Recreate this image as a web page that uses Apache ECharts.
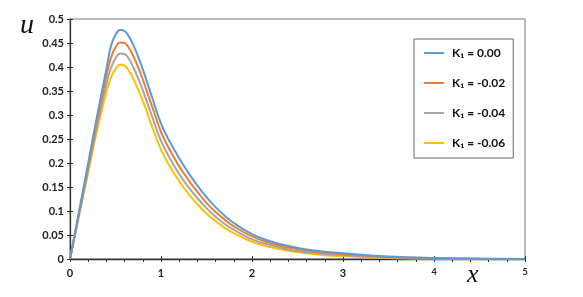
<!DOCTYPE html>
<html>
<head>
<meta charset="utf-8">
<script src="https://cdn.jsdelivr.net/npm/echarts@6/dist/echarts.min.js"></script>
<style>html,body{margin:0;padding:0;background:#fff}#c{width:583px;height:297px}</style>
</head>
<body>
<div id="c"></div>
<script>
const xs    = [0,0.1,0.2,0.3,0.4,0.45,0.5,0.55,0.6,0.65,0.7,0.75,0.8,0.9,1.0,1.1,1.2,1.3,1.4,1.5,1.6,1.7,1.8,2.0,2.2,2.4,2.6,2.8,3.0,3.5,4.0,4.5,5.0];
const uK000 = [0,0.100,0.200,0.300,0.396,0.443,0.467,0.477,0.475,0.463,0.444,0.421,0.395,0.338,0.282,0.243,0.210,0.180,0.153,0.129,0.108,0.090,0.075,0.052,0.037,0.027,0.020,0.015,0.012,0.005,0.002,0.0006,0];
const uK002 = [0,0.097,0.193,0.290,0.381,0.419,0.441,0.451,0.450,0.439,0.421,0.399,0.374,0.319,0.265,0.226,0.193,0.165,0.140,0.117,0.098,0.082,0.068,0.047,0.033,0.024,0.017,0.013,0.010,0.004,0.0015,0.0004,0];
const uK004 = [0,0.093,0.187,0.280,0.364,0.398,0.418,0.428,0.427,0.416,0.398,0.376,0.352,0.298,0.246,0.209,0.177,0.150,0.127,0.106,0.088,0.073,0.061,0.041,0.029,0.020,0.014,0.010,0.008,0.003,0.001,0.0003,0];
const uK006 = [0,0.090,0.180,0.270,0.348,0.378,0.396,0.405,0.403,0.392,0.374,0.353,0.330,0.277,0.228,0.192,0.162,0.136,0.114,0.095,0.079,0.065,0.054,0.036,0.025,0.017,0.012,0.008,0.006,0.002,0.0008,0.0002,0];
const seriesNames = ['K₁ = 0.00','K₁ = -0.02','K₁ = -0.04','K₁ = -0.06'];
const seriesColors = ['#5B9BD5','#ED7D31','#A5A5A5','#FFC000'];
const seriesValues = [uK000,uK002,uK004,uK006];

const chart = echarts.init(document.getElementById('c'));
const FONT = 'Lato';
const series = seriesValues.map((vals,i)=>({
  name: seriesNames[i], type:'line', smooth:0.4, symbol:'none', showSymbol:false,
  xAxisIndex:0, yAxisIndex:0,
  data: xs.map((x,j)=>[x, vals[j]]),
  lineStyle:{color:seriesColors[i], width:2},
  itemStyle:{color:seriesColors[i]},
  z: 10 - i
}));
chart.setOption({
  animation:false,
  grid: {left:70, right:58, top:19, bottom:38, show:true, borderColor:'#777', borderWidth:1, backgroundColor:'transparent'},
  legend:{
    orient:'vertical', left:414, top:39,
    padding:[8,8,9,9], itemGap:18, itemWidth:20, itemHeight:14,
    borderColor:'#666', borderWidth:1, backgroundColor:'#fff',
    itemStyle:{opacity:0},
    lineStyle:{width:2},
    data: seriesNames,
    textStyle:{fontFamily:FONT, fontWeight:'bold', fontSize:12, color:'#111', padding:[0,0,0,3]}
  },
  xAxis:[{
    type:'value', min:0, max:5, interval:1,
    axisLine:{show:true, onZero:false, lineStyle:{color:'#333', width:1.3}},
    axisTick:{show:true, length:3, lineStyle:{color:'#333'}},
    minorTick:{show:true, splitNumber:5, length:3, lineStyle:{color:'#333'}},
    splitLine:{show:false},
    axisLabel:{margin:9, fontFamily:FONT, fontWeight:'bold', fontSize:11, color:'#222',
      formatter:function(v){ return (v>=4) ? '{s|'+v+'}' : String(v); },
      rich:{s:{fontFamily:FONT, fontWeight:'bold', fontSize:9, color:'#222'}}}
  },{
    type:'value', min:0, max:5, interval:1, position:'bottom', gridIndex:0,
    axisLine:{show:false}, axisLabel:{show:false}, splitLine:{show:false},
    axisTick:{show:true, inside:true, length:3, lineStyle:{color:'#333'}}
  }],
  yAxis:[{
    type:'value', min:0, max:0.5, interval:0.05,
    axisLine:{show:true, onZero:false, lineStyle:{color:'#333', width:1.3}},
    axisTick:{show:true, length:3, lineStyle:{color:'#333'}},
    splitLine:{show:false},
    axisLabel:{margin:6, fontFamily:FONT, fontWeight:'bold', fontSize:11, color:'#222'}
  },{
    type:'value', min:0, max:0.5, interval:0.05, position:'left', gridIndex:0,
    axisLine:{show:false}, axisLabel:{show:false}, splitLine:{show:false},
    axisTick:{show:true, inside:true, length:3, lineStyle:{color:'#333'}}
  }],
  graphic:[
    {type:'text', left:20, top:12, style:{text:'u', fontFamily:'Liberation Serif', fontStyle:'italic', fontSize:28, fill:'#111'}},
    {type:'text', left:467, top:262, style:{text:'x', fontFamily:'Liberation Serif', fontStyle:'italic', fontSize:26, fill:'#111'}}
  ],
  series: series
});
</script>
</body>
</html>
